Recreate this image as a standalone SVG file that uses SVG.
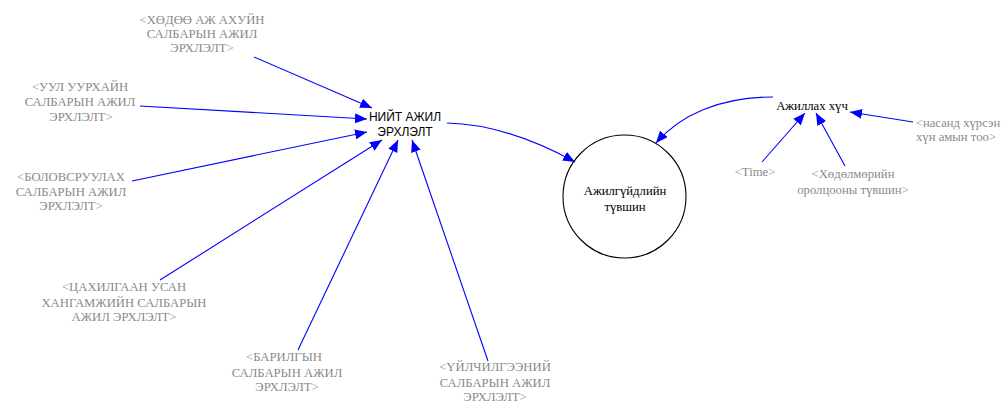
<svg xmlns="http://www.w3.org/2000/svg" width="1003" height="402" viewBox="0 0 1003 402">
<style>
.g{font-family:"Liberation Serif","Times New Roman",serif;font-size:12.7px;fill:#8a8a8a;text-anchor:middle}
.b{font-family:"Liberation Serif","Times New Roman",serif;font-size:12.7px;fill:#000;text-anchor:middle}
.s{font-family:"Liberation Sans",Arial,sans-serif;font-size:12px;fill:#000;text-anchor:middle}
.c{fill:none;stroke:#0000ff;stroke-width:1.1;marker-end:url(#ah)}
</style>
<defs>
<marker id="ah" markerUnits="userSpaceOnUse" markerWidth="14" markerHeight="10" refX="12" refY="5" orient="auto">
<path d="M0,0 L12,5 L0,10 Z" fill="#0000ff"/>
</marker>
</defs>
<rect width="1003" height="402" fill="#fff"/>
<g id="connectors">
<path class="c" d="M254,57 L372,108"/>
<path class="c" d="M140,106 L367,119"/>
<path class="c" d="M132,181 L367,132"/>
<path class="c" d="M160,280 L382,140"/>
<path class="c" d="M298,350 L398,140"/>
<path class="c" d="M488,361 L412,140"/>
<path class="c" d="M447,123 C490,124 535,140 575,162"/>
<path class="c" d="M773,97 C720,97 680,115 656,143"/>
<path class="c" d="M762,162 L805,113"/>
<path class="c" d="M845,166 L816,113"/>
<path class="c" d="M913,122 L850,112"/>
</g>
<g id="n_hodoo"><text class="g"><tspan x="202" y="24">&lt;ХӨДӨӨ АЖ АХУЙН</tspan><tspan x="202" y="38">САЛБАРЫН АЖИЛ</tspan><tspan x="202" y="52">ЭРХЛЭЛТ&gt;</tspan></text></g>
<g id="n_uul"><text class="g"><tspan x="80" y="91">&lt;УУЛ УУРХАЙН</tspan><tspan x="80" y="106">САЛБАРЫН АЖИЛ</tspan><tspan x="81" y="121">ЭРХЛЭЛТ&gt;</tspan></text></g>
<g id="n_bolov"><text class="g"><tspan x="71" y="181">&lt;БОЛОВСРУУЛАХ</tspan><tspan x="71" y="196">САЛБАРЫН АЖИЛ</tspan><tspan x="71" y="210">ЭРХЛЭЛТ&gt;</tspan></text></g>
<g id="n_tsah"><text class="g"><tspan x="124" y="291">&lt;ЦАХИЛГААН УСАН</tspan><tspan x="124" y="307">ХАНГАМЖИЙН САЛБАРЫН</tspan><tspan x="124" y="321">АЖИЛ ЭРХЛЭЛТ&gt;</tspan></text></g>
<g id="n_baril"><text class="g"><tspan x="284" y="361">&lt;БАРИЛГЫН</tspan><tspan x="287" y="377">САЛБАРЫН АЖИЛ</tspan><tspan x="287" y="391">ЭРХЛЭЛТ&gt;</tspan></text></g>
<g id="n_uilch"><text class="g"><tspan x="495" y="371">&lt;ҮЙЛЧИЛГЭЭНИЙ</tspan><tspan x="495" y="387">САЛБАРЫН АЖИЛ</tspan><tspan x="495" y="401">ЭРХЛЭЛТ&gt;</tspan></text></g>
<g id="n_niit"><text class="s"><tspan x="405" y="121">НИЙТ АЖИЛ</tspan><tspan x="405" y="136">ЭРХЛЭЛТ</tspan></text></g>
<g id="n_ajilgui"><circle cx="624.5" cy="196.5" r="61.5" fill="none" stroke="#000" stroke-width="1.1"/><text class="b"><tspan x="625" y="195">Ажилгүйдлийн</tspan><tspan x="625" y="211">түвшин</tspan></text></g>
<g id="n_ajillah"><text class="b" x="812" y="110">Ажиллах хүч</text></g>
<g id="n_time"><text class="g" x="755" y="176">&lt;Time&gt;</text></g>
<g id="n_hodolmor"><text class="g"><tspan x="853" y="178">&lt;Хөдөлмөрийн</tspan><tspan x="853" y="194">оролцооны түвшин&gt;</tspan></text></g>
<g id="n_nasand"><text class="g"><tspan x="958" y="127">&lt;насанд хүрсэн</tspan><tspan x="956" y="141">хүн амын тоо&gt;</tspan></text></g>
</svg>
